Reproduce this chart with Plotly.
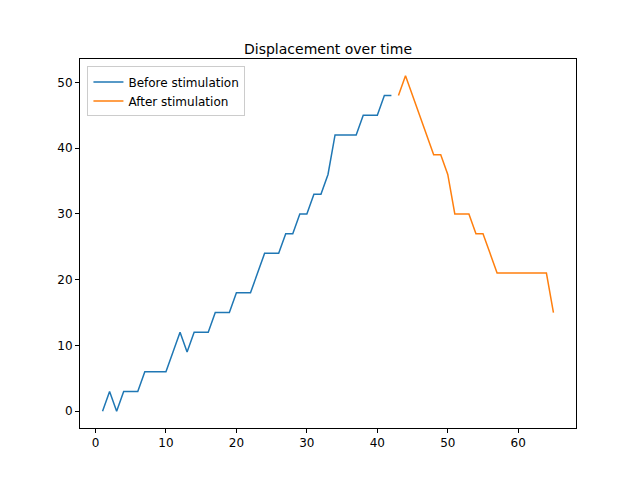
import plotly.graph_objects as go

x_before = list(range(1, 43))
y_before = [0, 3, 0, 3, 3, 3, 6, 6, 6, 6, 9, 12, 9, 12, 12, 12, 15, 15, 15, 18, 18,
            18, 21, 24, 24, 24, 27, 27, 30, 30, 33, 33, 36, 42, 42, 42, 42, 45, 45,
            45, 48, 48]
x_after = list(range(43, 66))
y_after = [48, 51, 48, 45, 42, 39, 39, 36, 30, 30, 30, 27, 27, 24, 21, 21, 21, 21,
           21, 21, 21, 21, 15]

fig = go.Figure()
fig.add_trace(go.Scatter(x=x_before, y=y_before, mode='lines', name='Before stimulation',
                         line={'color': '#1f77b4', 'width': 1.5}))
fig.add_trace(go.Scatter(x=x_after, y=y_after, mode='lines', name='After stimulation',
                         line={'color': '#ff7f0e', 'width': 1.5}))

axis = dict(showgrid=False, zeroline=False, showline=True, mirror=True, linecolor='black',
            linewidth=1, ticks='outside', ticklen=4, tickcolor='black')
fig.update_layout(
    width=640, height=480,
    margin=dict(l=72, r=72, t=51, b=60),
    plot_bgcolor='white', paper_bgcolor='white',
    font=dict(family='DejaVu Sans', size=12, color='black'),
    title=dict(text='Displacement over time', x=0.5, xanchor='center', y=0.925,
               font=dict(size=14)),
    xaxis=dict(axis, range=[-2.2, 68.2], tickvals=[0, 10, 20, 30, 40, 50, 60]),
    yaxis=dict(axis, range=[-2.55, 53.55], tickvals=[0, 10, 20, 30, 40, 50]),
    legend=dict(x=0.015, y=0.98, xanchor='left', yanchor='top', bordercolor='#cccccc',
                borderwidth=1, bgcolor='white', tracegroupgap=0),
)
fig.write_html("out.html")
